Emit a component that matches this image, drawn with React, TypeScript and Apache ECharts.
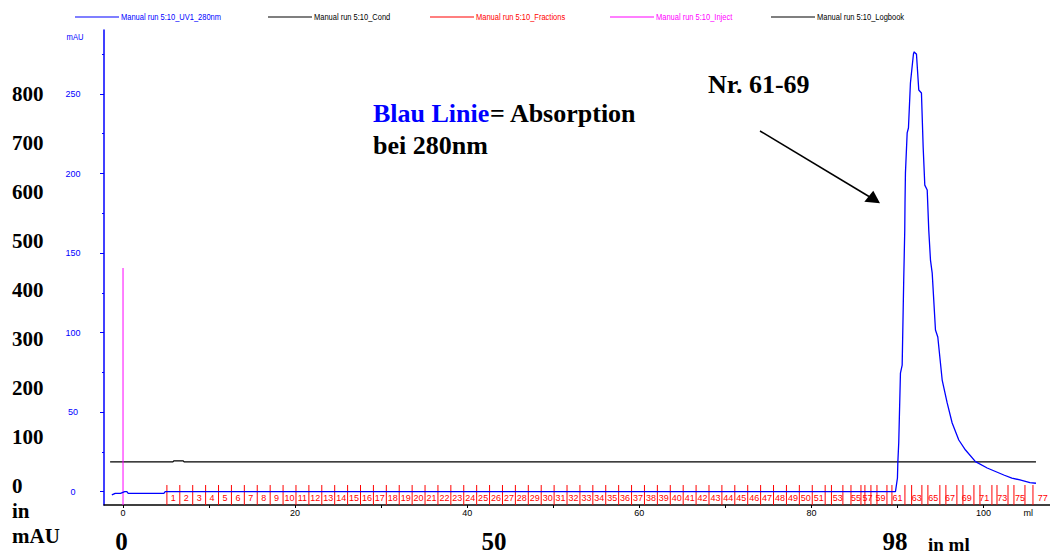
import React, { useEffect, useRef } from "react";
import * as echarts from "echarts";

// ---- data (ml, mAU) ----
const uvMl = [-1.3, -0.9, -0.3, 0.2, 0.45, 0.6, 4.75, 4.9, 89.77, 90.0, 90.05, 90.15, 90.35, 90.55, 90.73, 90.85, 90.88, 90.93, 91.13, 91.28, 91.51, 91.86, 91.95, 92.1, 92.21, 92.48, 92.79, 92.99, 93.18, 93.46, 93.64, 93.84, 94.04, 94.42, 94.69, 95.2, 95.78, 96.36, 97.13, 97.91, 99.07, 100.43, 102.36, 103.3, 104.24, 105.4, 106.1];
const uvMau = [-2, -1, -1, 0, 0, -1, -1, 0, 0, 8.6, 18.9, 30.6, 74.6, 79.6, 133, 164.4, 181.5, 200.3, 225.5, 228.6, 256.9, 275.1, 276.5, 275.5, 275.1, 252.5, 250.6, 216.5, 192.7, 189.6, 164.4, 145.6, 137.4, 101.6, 97.2, 70.2, 55.8, 43.2, 32.5, 26.2, 18.9, 14.9, 10.5, 8.6, 7.4, 5.7, 5.3];

const condMl = [-1.5, 5.8, 5.9, 7.0, 7.1, 106.1];
const condVal = [18.7, 18.7, 19.4, 19.4, 18.7, 18.7];

const injectMl = [0, 0];
const injectVal = [-8.36, 140.6];

const fracLines = [5.1, 6.6, 8.1, 9.6, 11.1, 12.6, 14.1, 15.6, 17.1, 18.6, 20.1, 21.6, 23.1, 24.6, 26.1, 27.6, 29.1, 30.6, 32.1, 33.6, 35.1, 36.6, 38.1, 39.6, 41.1, 42.6, 44.1, 45.6, 47.1, 48.6, 50.1, 51.6, 53.1, 54.6, 56.1, 57.6, 59.1, 60.6, 62.1, 63.6, 65.1, 66.6, 68.1, 69.6, 71.1, 72.6, 74.1, 75.6, 77.1, 78.6, 80.1, 81.6, 82.33, 83.66, 84.6, 85.76, 86.22, 86.92, 87.62, 88.78, 89.36, 90.87, 91.65, 92.84, 93.54, 94.93, 95.63, 96.91, 97.61, 98.89, 99.59, 100.98, 101.57, 102.85, 103.54, 104.82, 105.75];

const fracLabelPos = [5.85, 7.35, 8.85, 10.35, 11.85, 13.35, 14.85, 16.35, 17.85, 19.35, 20.85, 22.35, 23.85, 25.35, 26.85, 28.35, 29.85, 31.35, 32.85, 34.35, 35.85, 37.35, 38.85, 40.35, 41.85, 43.35, 44.85, 46.35, 47.85, 49.35, 50.85, 52.35, 53.85, 55.35, 56.85, 58.35, 59.85, 61.35, 62.85, 64.35, 65.85, 67.35, 68.85, 70.35, 71.85, 73.35, 74.85, 76.35, 77.85, 79.35, 80.85, 83.06, 85.18, 86.52, 88.03, 90.0, 92.24, 94.17, 96.11, 98.05, 100.09, 102.18, 104.24, 106.88];
const fracLabelText = ["1", "2", "3", "4", "5", "6", "7", "8", "9", "10", "11", "12", "13", "14", "15", "16", "17", "18", "19", "20", "21", "22", "23", "24", "25", "26", "27", "28", "29", "30", "31", "32", "33", "34", "35", "36", "37", "38", "39", "40", "41", "42", "43", "44", "45", "46", "47", "48", "49", "50", "51", "53", "55", "57", "59", "61", "63", "65", "67", "69", "71", "73", "75", "77"];

const yMin = -8.36;
const yMax = 290.2;
const xMin = -2.21;
const xMax = 107.73;
const yLabelValues = [0, 50, 100, 150, 200, 250];
const yMinorValues = [25, 75, 125, 175, 225, 275];
const xLabelValues = [0, 20, 40, 60, 80, 100, 105.2];
const xTickValues = [0, 10, 20, 30, 40, 50, 60, 70, 80, 90, 100];
const xUnitValue = 105.2;
const fracTop = 4.2;
const fracLabelY = -3.96;

const legendNames = ["Manual run 5:10_UV1_280nm", "Manual run 5:10_Cond", "Manual run 5:10_Fractions", "Manual run 5:10_Inject", "Manual run 5:10_Logbook"];
const legendColors = ["#0000ff", "#000000", "#ff0000", "#ff00ff", "#000000"];
const legendX = [75, 268, 430, 610, 771];

const leftNumbers = ["800", "700", "600", "500", "400", "300", "200", "100", "0", "in", "mAU"];
const leftNumberY = [94, 143, 192, 241, 290, 339, 388, 437, 486, 511, 536];
const bottomNumbers = ["0", "50", "98"];
const bottomNumberX = [121.5, 494, 895];

const serif = "'Times New Roman', 'Liberation Serif', serif";
const narrow = "'Liberation Sans Narrow', 'Arial Narrow', 'Liberation Sans', Arial, sans-serif";

export default function App() {
  const ref = useRef<HTMLDivElement>(null);
  useEffect(() => {
    if (!ref.current) return;
    const chart = echarts.init(ref.current, undefined, { renderer: "svg" });

    const graphic: any[] = [];
    legendNames.forEach((n, i) => {
      graphic.push({ type: "line", shape: { x1: legendX[i], y1: 17, x2: legendX[i] + 44, y2: 17 }, style: { stroke: legendColors[i], lineWidth: 1.2 } });
      graphic.push({ type: "text", x: legendX[i] + 46, y: 17, scaleX: 0.79, style: { text: n, fill: legendColors[i], font: "9.5px 'Liberation Sans', Arial, sans-serif", textAlign: "left", textVerticalAlign: "middle", align: "left", verticalAlign: "middle" } });
    });
    graphic.push({ type: "text", x: 75, y: 37, scaleX: 0.8, style: { text: "mAU", fill: "#0000ff", font: "9.5px 'Liberation Sans', Arial, sans-serif", textAlign: "center", textVerticalAlign: "middle", align: "center", verticalAlign: "middle" } });
    leftNumbers.forEach((t, i) => {
      graphic.push({ type: "text", x: 12, y: leftNumberY[i], style: { text: t, fill: "#000", font: `bold 21px ${serif}`, textAlign: "left", textVerticalAlign: "middle", align: "left", verticalAlign: "middle" } });
    });
    bottomNumbers.forEach((t, i) => {
      graphic.push({ type: "text", x: bottomNumberX[i], y: 541, style: { text: t, fill: "#000", font: `bold 25px ${serif}`, textAlign: "center", textVerticalAlign: "middle", align: "center", verticalAlign: "middle" } });
    });
    graphic.push({ type: "text", x: 928, y: 544, style: { text: "in ml", fill: "#000", font: `bold 19px ${serif}`, textAlign: "left", textVerticalAlign: "middle", align: "left", verticalAlign: "middle" } });
    graphic.push({ type: "text", x: 373, y: 113, style: { text: "Blau Linie", fill: "#0000ff", font: `bold 26px ${serif}`, textAlign: "left", textVerticalAlign: "middle", align: "left", verticalAlign: "middle" } });
    graphic.push({ type: "text", x: 490, y: 113, style: { text: "= Absorption", fill: "#000", font: `bold 26px ${serif}`, textAlign: "left", textVerticalAlign: "middle", align: "left", verticalAlign: "middle" } });
    graphic.push({ type: "text", x: 373, y: 145, style: { text: "bei 280nm", fill: "#000", font: `bold 26px ${serif}`, textAlign: "left", textVerticalAlign: "middle", align: "left", verticalAlign: "middle" } });
    graphic.push({ type: "text", x: 708, y: 84, style: { text: "Nr. 61-69", fill: "#000", font: `bold 26px ${serif}`, textAlign: "left", textVerticalAlign: "middle", align: "left", verticalAlign: "middle" } });
    graphic.push({ type: "line", shape: { x1: 760, y1: 131, x2: 869, y2: 196.5 }, style: { stroke: "#000", lineWidth: 1.5 } });
    graphic.push({ type: "polygon", shape: { points: [[880, 203.3], [864.3, 201.7], [873.3, 190.7]] }, style: { fill: "#000" } });

    const option: any = {
      animation: false,
      backgroundColor: "#fff",
      grid: { left: 104, right: 0, top: 30, bottom: 51, containLabel: false },
      xAxis: {
        type: "value",
        min: xMin,
        max: xMax,
        splitLine: { show: false },
        axisLine: { show: true, onZero: false, lineStyle: { color: "#000", width: 1.5 } },
        axisTick: { show: true, customValues: xTickValues, length: 3, lineStyle: { color: "#000" } },
        axisLabel: {
          show: true,
          customValues: xLabelValues,
          formatter: (v: number) => (v === xUnitValue ? "ml" : String(v)),
          color: "#000",
          fontSize: 9,
          fontFamily: narrow,
          margin: 3,
        },
      },
      yAxis: [
        {
          type: "value",
          min: yMin,
          max: yMax,
          position: "left",
          splitLine: { show: false },
          axisLine: { show: true, onZero: false, lineStyle: { color: "#0000ff", width: 1.5 } },
          axisTick: { show: true, customValues: yLabelValues, length: 4, lineStyle: { color: "#0000ff" } },
          axisLabel: { show: true, customValues: yLabelValues, color: "#0000ff", fontSize: 9, fontFamily: narrow, align: "center", margin: 31 },
        },
        {
          type: "value",
          min: yMin,
          max: yMax,
          position: "left",
          splitLine: { show: false },
          axisLine: { show: false, onZero: false },
          axisTick: { show: true, customValues: yMinorValues, length: 2, lineStyle: { color: "#0000ff" } },
          axisLabel: { show: false },
        },
      ],
      graphic,
      series: [
        {
          type: "custom",
          name: "fractionLines",
          data: fracLines.map((v) => [v, fracTop]),
          encode: { x: 0, y: 1 },
          silent: true,
          renderItem: (params: any, api: any) => {
            const p1 = api.coord([api.value(0), fracTop]);
            const p2 = api.coord([api.value(0), yMin]);
            return { type: "line", shape: { x1: p1[0], y1: p1[1], x2: p2[0], y2: p2[1] }, style: { stroke: "#ff0000", lineWidth: 1 } };
          },
          z: 1,
        },
        {
          type: "custom",
          name: "fractionLabels",
          data: fracLabelPos.map((v) => [v, fracLabelY]),
          encode: { x: 0, y: 1 },
          silent: true,
          renderItem: (params: any, api: any) => {
            const p = api.coord([api.value(0), api.value(1)]);
            return {
              type: "text",
              x: p[0],
              y: p[1],
              style: { text: fracLabelText[params.dataIndex], fill: "#ff0000", font: `9px ${narrow}`, textAlign: "center", textVerticalAlign: "middle", align: "center", verticalAlign: "middle" },
            };
          },
          z: 1,
        },
        {
          type: "line",
          name: "Cond",
          data: condMl.map((v, i) => [v, condVal[i]]),
          symbol: "none",
          lineStyle: { color: "#000", width: 1.2 },
          itemStyle: { color: "#000" },
          z: 2,
        },
        {
          type: "line",
          name: "Inject",
          data: injectMl.map((v, i) => [v, injectVal[i]]),
          symbol: "none",
          lineStyle: { color: "#ff00ff", width: 1 },
          itemStyle: { color: "#ff00ff" },
          z: 3,
        },
        {
          type: "line",
          name: "UV1_280nm",
          data: uvMl.map((v, i) => [v, uvMau[i]]),
          symbol: "none",
          lineStyle: { color: "#0000ff", width: 1.3 },
          itemStyle: { color: "#0000ff" },
          z: 4,
        },
      ],
    };
    chart.setOption(option);
    return () => chart.dispose();
  }, []);
  return <div ref={ref} style={{ position: "absolute", left: 0, top: 0, width: 1050, height: 556 }} />;
}
